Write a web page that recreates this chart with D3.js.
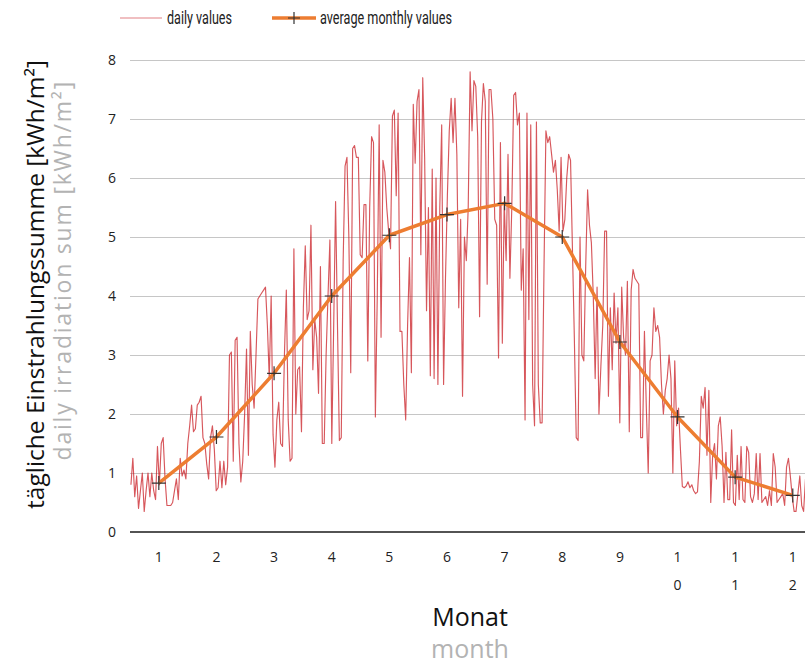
<!DOCTYPE html>
<html>
<head>
<meta charset="utf-8">
<script src="https://cdnjs.cloudflare.com/ajax/libs/d3/7.8.5/d3.min.js"></script>
<style>
  body { margin: 0; background: #fff; }
  text { font-family: "Open Sans", "Noto Sans", sans-serif; }
  .tickLabel { font-size: 14px; fill: #222; }
  .legendText { font-family: "Liberation Sans Narrow", "Roboto", sans-serif; font-size: 18.5px; fill: #222; }
</style>
</head>
<body>
<div id="chart"></div>
<script>
// months on the x axis
const months = [1, 2, 3, 4, 5, 6, 7, 8, 9, 10, 11, 12];

// average monthly values [kWh/m2]
const monthlyAvg = [0.83, 1.61, 2.69, 4.0, 5.03, 5.38, 5.57, 5.0, 3.22, 1.95, 0.93, 0.62];

// daily values [kWh/m2]
const dailyJan = [0.8, 1.25, 0.6, 0.95, 0.4, 0.7, 1.0, 0.35, 0.7, 1.0, 0.6, 1.0, 0.7, 0.55, 1.45, 0.8, 1.5, 1.6, 0.9, 0.45, 0.45, 0.45, 0.5, 0.7, 0.9, 0.55, 1.25, 0.95, 1.05, 0.9, 1.5];
const dailyFeb = [1.8, 2.15, 1.7, 1.75, 2.15, 2.2, 2.3, 1.6, 1.5, 1.15, 0.9, 1.6, 1.8, 1.4, 0.7, 0.75, 1.2, 0.75, 1.2, 0.8, 1.1, 3.0, 3.05, 1.2, 3.25, 3.3, 1.5, 0.85];
const dailyMar = [1.2, 2.0, 3.1, 1.3, 3.4, 2.5, 2.1, 3.0, 3.95, 4.0, 4.05, 4.1, 4.15, 3.5, 2.6, 4.0, 1.65, 1.1, 1.9, 2.2, 1.5, 1.45, 3.0, 4.1, 1.9, 1.2, 1.25, 4.8, 2.0, 2.75, 2.8];
const dailyApr = [1.7, 3.8, 4.85, 3.6, 3.75, 5.2, 2.75, 3.6, 3.3, 2.35, 4.5, 1.5, 1.5, 3.0, 4.0, 4.95, 1.5, 3.5, 5.6, 3.5, 1.55, 1.6, 4.6, 6.2, 6.35, 5.0, 2.7, 6.5, 6.55, 6.35];
const dailyMay = [6.35, 4.7, 4.65, 5.55, 5.55, 2.9, 5.5, 6.7, 6.6, 1.95, 4.0, 6.9, 3.3, 6.3, 6.1, 5.5, 5.1, 4.8, 7.05, 7.15, 5.7, 7.1, 3.4, 3.4, 2.5, 1.9, 3.5, 4.65, 2.7, 7.25, 6.25];
const dailyJun = [7.3, 7.5, 4.7, 7.7, 6.35, 3.75, 5.5, 2.65, 6.15, 2.6, 6.0, 2.5, 5.5, 6.9, 2.5, 4.3, 5.7, 6.8, 7.35, 6.6, 7.35, 6.4, 3.8, 5.3, 2.3, 5.0, 4.6, 5.5, 7.8, 6.8];
const dailyJul = [7.65, 7.55, 6.7, 3.65, 6.95, 7.6, 7.3, 4.2, 7.5, 7.5, 7.0, 5.3, 5.2, 2.95, 6.6, 3.2, 5.6, 4.6, 6.4, 4.3, 5.5, 7.4, 7.45, 6.9, 7.1, 4.1, 4.8, 1.9, 7.1, 3.6, 6.9];
const dailyAug = [2.5, 1.8, 6.95, 2.5, 1.85, 1.85, 4.5, 6.8, 6.6, 6.7, 6.4, 6.1, 6.3, 5.8, 5.1, 6.35, 5.1, 5.3, 6.0, 6.4, 6.3, 4.8, 3.3, 1.6, 1.55, 5.0, 3.0, 2.9, 4.5, 5.8, 5.2];
const dailySep = [4.9, 4.0, 2.6, 4.15, 2.0, 2.8, 3.5, 5.1, 5.1, 2.3, 3.8, 2.75, 4.05, 3.2, 3.8, 1.85, 4.15, 3.3, 3.0, 4.25, 1.7, 4.1, 4.45, 4.3, 4.25, 4.2, 1.6, 1.6, 3.4, 2.1];
const dailyOct = [1.0, 2.9, 3.0, 3.8, 3.4, 3.5, 3.3, 2.5, 2.0, 2.4, 2.6, 3.0, 2.6, 1.0, 2.9, 1.8, 2.1, 1.4, 0.77, 0.75, 0.78, 0.85, 0.75, 0.8, 0.7, 0.65, 0.68, 1.2, 2.3, 2.1, 2.45];
const dailyNov = [1.3, 2.4, 0.5, 1.3, 1.5, 0.9, 1.8, 1.95, 1.45, 0.5, 1.35, 0.55, 0.55, 1.73, 0.5, 0.45, 1.3, 0.55, 1.45, 0.55, 0.5, 1.45, 1.35, 0.6, 0.5, 0.65, 1.33, 0.55, 1.33, 0.5];
const dailyDec = [0.55, 0.6, 0.45, 0.7, 0.45, 1.33, 1.1, 0.5, 0.55, 0.6, 0.65, 0.45, 1.1, 1.25, 0.95, 0.6, 0.35, 0.35, 0.65, 0.95, 0.45, 0.35, 0.9, 0.5, 0.4, 0.6, 0.8, 0.5, 0.4, 0.6, 0.7];

const yTicks = [0, 1, 2, 3, 4, 5, 6, 7, 8];

const daily = [].concat(dailyJan, dailyFeb, dailyMar, dailyApr, dailyMay, dailyJun,
    dailyJul, dailyAug, dailySep, dailyOct, dailyNov, dailyDec);

const margin = {top: 60, left: 130},
    totalWidth = 805, totalHeight = 664,
    width = 691.6,   // the plot runs past the right edge of the picture
    height = 472;

const svg = d3.select("#chart").append("svg")
    .attr("width", totalWidth)
    .attr("height", totalHeight);

const g = svg.append("g")
    .attr("transform", "translate(" + margin.left + "," + margin.top + ")");

const x = d3.scaleBand()
    .domain(months)
    .range([0, width]);

const xDay = d3.scaleLinear()
    .domain([0, daily.length])
    .range([0, width]);

const y = d3.scaleLinear()
    .domain([0, 8])
    .range([height, 0]);

// horizontal grid lines
g.selectAll("line.grid").data(yTicks.filter(d => d > 0))
    .enter()
    .append("line")
    .attr("class", "grid")
    .attr("x1", 0)
    .attr("x2", width)
    .attr("y1", d => y(d))
    .attr("y2", d => y(d))
    .attr("stroke", "#c6c6c6")
    .attr("stroke-width", 1)
    .attr("shape-rendering", "crispEdges");

// y labels
g.selectAll("text.yLabel").data(yTicks)
    .enter()
    .append("text")
    .attr("class", "tickLabel yLabel")
    .attr("x", -14)
    .attr("y", d => y(d))
    .attr("dy", "0.35em")
    .attr("text-anchor", "end")
    .text(d => d);

// x axis line
g.append("line")
    .attr("x1", 0)
    .attr("x2", width)
    .attr("y1", y(0))
    .attr("y2", y(0))
    .attr("stroke", "#1a1a1a")
    .attr("stroke-width", 1.6);

// month labels, two digit months wrap onto two lines
const monthLabels = g.selectAll("text.xLabel").data(months)
    .enter()
    .append("text")
    .attr("class", "tickLabel xLabel")
    .attr("text-anchor", "middle")
    .attr("y", height + 30);

monthLabels.each(function(d) {
    const cx = x(d) + x.bandwidth() / 2;
    String(d).split("").forEach((ch, i) => {
        d3.select(this).append("tspan")
            .attr("x", cx)
            .attr("dy", i === 0 ? 0 : 28)
            .text(ch);
    });
});

// daily values
const dailyLine = d3.line()
    .x((d, i) => xDay(i + 0.5))
    .y(d => y(d));

g.append("path")
    .datum(daily)
    .attr("fill", "none")
    .attr("stroke", "#c8161d")
    .attr("stroke-opacity", 0.72)
    .attr("stroke-width", 1.15)
    .attr("stroke-linejoin", "round")
    .attr("d", dailyLine);

// monthly averages
const avgLine = d3.line()
    .x((d, i) => x(months[i]) + x.bandwidth() / 2)
    .y(d => y(d));

g.append("path")
    .datum(monthlyAvg)
    .attr("fill", "none")
    .attr("stroke", "#ed7d31")
    .attr("stroke-width", 3.5)
    .attr("stroke-linejoin", "round")
    .attr("d", avgLine);

g.selectAll("path.marker").data(monthlyAvg)
    .enter()
    .append("path")
    .attr("class", "marker")
    .attr("transform", (d, i) => "translate(" + (x(months[i]) + x.bandwidth() / 2) + "," + y(d) + ")")
    .attr("d", "M-7,0H7M0,-7V7")
    .attr("stroke", "#333")
    .attr("stroke-width", 1.2);

// legend
const legend = svg.append("g").attr("transform", "translate(0,18)");
legend.append("line")
    .attr("x1", 120).attr("x2", 162)
    .attr("stroke", "#c8161d").attr("stroke-opacity", 0.55).attr("stroke-width", 1.2);
legend.append("text")
    .attr("class", "legendText")
    .attr("x", 167).attr("dy", "0.33em")
    .attr("textLength", 65).attr("lengthAdjust", "spacingAndGlyphs")
    .text("daily values");
legend.append("line")
    .attr("x1", 272).attr("x2", 316)
    .attr("stroke", "#ed7d31").attr("stroke-width", 3.5);
legend.append("path")
    .attr("transform", "translate(294,0)")
    .attr("d", "M-6,0H6M0,-6V6")
    .attr("stroke", "#333").attr("stroke-width", 1.2);
legend.append("text")
    .attr("class", "legendText")
    .attr("x", 320).attr("dy", "0.33em")
    .attr("textLength", 132).attr("lengthAdjust", "spacingAndGlyphs")
    .text("average monthly values");

// axis titles
svg.append("text")
    .attr("transform", "translate(44,60) rotate(-90)")
    .attr("text-anchor", "end")
    .attr("font-size", 24.5)
    .attr("fill", "#111")
    .text("tägliche Einstrahlungssumme [kWh/m²]");

svg.append("text")
    .attr("transform", "translate(71,80) rotate(-90)")
    .attr("text-anchor", "end")
    .attr("font-size", 23)
    .attr("letter-spacing", 1.8)
    .attr("fill", "#b3b3b3")
    .text("daily irradiation sum [kWh/m²]");

svg.append("text")
    .attr("x", 470).attr("y", 626)
    .attr("text-anchor", "middle")
    .attr("font-size", 25)
    .attr("fill", "#111")
    .text("Monat");

svg.append("text")
    .attr("x", 470).attr("y", 658)
    .attr("text-anchor", "middle")
    .attr("font-size", 25)
    .attr("fill", "#b3b3b3")
    .text("month");
</script>
</body>
</html>
